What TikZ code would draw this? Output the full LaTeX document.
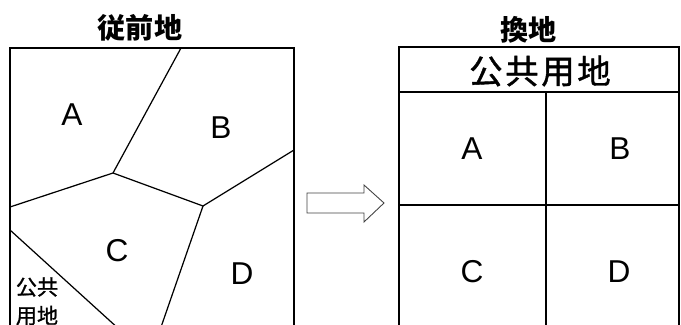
\documentclass[tikz,border=0pt]{standalone}
\usepackage{fontspec}
\setmainfont{Liberation Sans}
\newfontfamily\jp{Noto Sans CJK JP}
\newfontfamily\jpheavy[FakeBold=1.2]{Noto Sans CJK JP}
\usetikzlibrary{positioning}

\begin{document}
\begin{tikzpicture}[x=0.02cm,y=-0.02cm,line width=0.7pt,
		LotStyle/.style={font=\fontsize{18}{18}\selectfont,inner sep=0pt},
		TitleStyle/.style={font=\jp\bfseries\fontsize{16}{16}\selectfont,inner sep=0pt},
		PublicStyle/.style={font=\jpheavy\fontsize{12}{12}\selectfont,inner sep=0pt}]
		\useasboundingbox (0,0) rectangle (681,325);
		\clip (0,0) rectangle (681,325);
		% before
		\node[TitleStyle] (T1) at (140,28) {従前地};
		\draw (10,340) -- (10,48) -- (294,48) -- (294,340);
		\coordinate (top) at (181,48);
		\coordinate (J1) at (113,173);
		\coordinate (J2) at (203,206);
		\coordinate (W1) at (10,207);
		\coordinate (W2) at (10,230);
		\coordinate (E1) at (294,150);
		\coordinate (S1) at (160,330);
		\coordinate (S2) at (120,330);
		\draw (top) -- (J1) -- (W1);
		\draw (J1) -- (J2) -- (E1);
		\draw (J2) -- (S1);
		\draw (W2) -- (S2);
		\node[LotStyle] (A) at (72,115) {A};
		\node[LotStyle] (B) at (221,128) {B};
		\node[LotStyle] (C) at (117,251) {C};
		\node[LotStyle] (D) at (242,274) {D};
		\node[PublicStyle] (P1) at (37,287) {公共};
		\node[PublicStyle,below=4.5pt of P1] (P2) {用地};
		% arrow
		\draw[line width=0.5pt,draw=black!75] (307,193) -- (364,193) -- (364,185) -- (384,203)
			-- (364,222) -- (364,213) -- (307,213) -- cycle;
		% after
		\node[TitleStyle] (T2) at (529,30) {換地};
		\draw (399,340) -- (399,47) -- (679,47) -- (679,340);
		\draw (399,92) -- (679,92);
		\draw (399,205) -- (679,205);
		\draw (546,92) -- (546,340);
		\node[font=\jpheavy\fontsize{19}{19}\selectfont,inner sep=0pt] (P) at (540,71)
			{公\kern1.5pt 共\kern1.5pt 用\kern1.5pt 地};
		\node[LotStyle] (A') at (472,149) {A};
		\node[LotStyle] (B') at (620,149) {B};
		\node[LotStyle] (C') at (472,272) {C};
		\node[LotStyle] (D') at (619,272) {D};
\end{tikzpicture}
\end{document}
